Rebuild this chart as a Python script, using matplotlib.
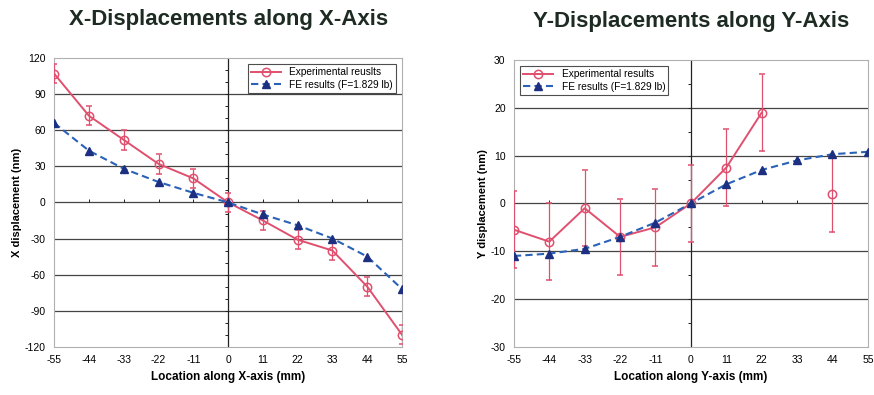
import numpy as np
import matplotlib
matplotlib.use("Agg")
import matplotlib.pyplot as plt
from matplotlib.lines import Line2D

plt.rcParams['font.family'] = ['Liberation Sans', 'DejaVu Sans']
plt.rcParams['axes.unicode_minus'] = False

# datos
loc = [-55, -44, -33, -22, -11, 0, 11, 22, 33, 44, 55]

x_exp = [107, 72, 52, 32, 20, 0, -15, -31, -40, -70, -110]
x_exp_err = [8, 8, 8, 8, 8, 8, 8, 8, 8, 8, 8]
x_fe = [66, 43, 28, 17, 8, 0, -10, -19, -30, -45, -72]

y_exp = [-5.5, -8, -1, -7, -5, 0, 7.5, 19, np.nan, 2, np.nan]
y_exp_err = [8, 8, 8, 8, 8, 8, 8, 8, 8, 8, 8]
y_fe = [-11, -10.5, -9.5, -7, -4, 0, 4, 7, 9, 10.3, 10.8]

x_ticks = [-120, -90, -60, -30, 0, 30, 60, 90, 120]
y_ticks = [-30, -20, -10, 0, 10, 20, 30]

EXP_COLOR = '#e0506e'
FE_LINE = '#2a62b8'
FE_MARK = '#1c2f80'
FE_LABEL = 'FE results (F=1.829 lb)'


def draw_panel(ax, exp, err, fe, yticks, minor_step, title, ylabel, xlabel,
               exp_label, legend_loc):
    ax.set_xlim(-55, 55)
    ax.set_ylim(yticks[0], yticks[-1])
    ax.set_xticks(loc)
    ax.set_yticks(yticks)
    ax.tick_params(length=0, labelsize=7.5, pad=6)

    for s in ax.spines.values():
        s.set_color('#b0b0b0')
        s.set_linewidth(0.8)

    # lineas de cuadricula horizontales
    for yv in yticks[1:-1]:
        ax.axhline(yv, color='#444444', lw=0.9, zorder=1)
    ax.axvline(0, color='#222222', lw=0.9, zorder=1)

    # marcas pequenas sobre los ejes centrales
    ymin_t = np.arange(yticks[0] + minor_step, yticks[-1], minor_step)
    ax.plot(np.zeros(len(ymin_t)), ymin_t, ls='none', marker=0, ms=2.5,
            color='#222222', mew=0.7, zorder=2)
    ax.plot(loc, np.zeros(len(loc)), ls='none', marker=2, ms=2.5,
            color='#222222', mew=0.7, zorder=2)

    ax.errorbar(loc, exp, yerr=err, color=EXP_COLOR, lw=1.4, marker='o',
                ms=6, mfc='none', mec=EXP_COLOR, mew=1.1, capsize=2,
                elinewidth=0.9, capthick=0.9, zorder=3)
    ax.plot(loc, fe, color=FE_LINE, lw=1.5, ls=(0, (3.5, 2)), marker='^',
            ms=6, mfc=FE_MARK, mec=FE_MARK, zorder=4)

    ax.set_title(title, fontsize=16, fontweight='bold', color='#1d2b22',
                 pad=24)
    ax.set_ylabel(ylabel, fontsize=8, fontweight='bold', labelpad=2)
    ax.set_xlabel(xlabel, fontsize=8.5, fontweight='bold', labelpad=4)

    # leyenda sin barras de error
    h_exp = Line2D([], [], color=EXP_COLOR, lw=1.4, marker='o', ms=6,
                   mfc='none', mec=EXP_COLOR, mew=1.1)
    h_fe = Line2D([], [], color=FE_LINE, lw=1.5, ls=(0, (3.5, 2)),
                  marker='^', ms=6, mfc=FE_MARK, mec=FE_MARK)
    leg = ax.legend([h_exp, h_fe], [exp_label, FE_LABEL],
                    loc=legend_loc, fontsize=7.3, frameon=True, fancybox=False,
                    edgecolor='#222222', borderpad=0.3, handlelength=3,
                    labelspacing=0.25, borderaxespad=0.6)
    leg.get_frame().set_linewidth(0.8)


fig = plt.figure(figsize=(8.74, 3.95), dpi=100)
ax1 = fig.add_axes([0.062, 0.122, 0.398, 0.731])
ax2 = fig.add_axes([0.588, 0.122, 0.405, 0.726])

draw_panel(ax1, x_exp, x_exp_err, x_fe, x_ticks, 10,
           'X-Displacements along X-Axis', 'X displacement (nm)',
           'Location along X-axis (mm)', 'Experimental reuslts', 'upper right')
draw_panel(ax2, y_exp, y_exp_err, y_fe, y_ticks, 5,
           'Y-Displacements along Y-Axis', 'Y displacement (nm)',
           'Location along Y-axis (mm)', 'Experimental results', 'upper left')

fig.savefig('out.png', dpi=100)
